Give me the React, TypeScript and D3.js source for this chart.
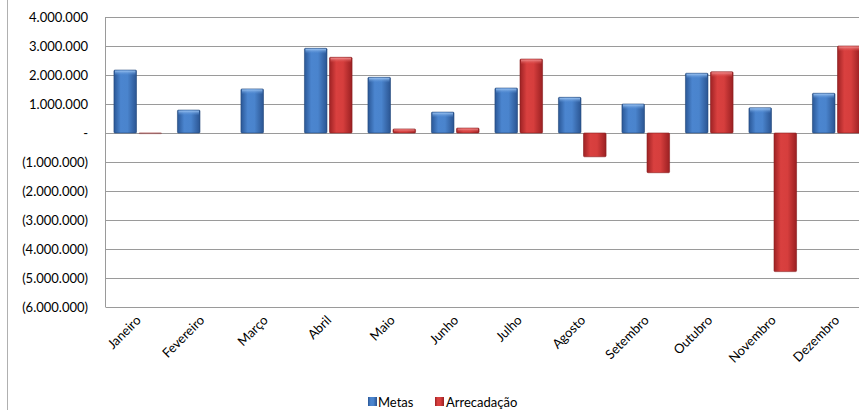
import React from "react";
import * as d3 from "d3";

const months = ["Janeiro","Fevereiro","Março","Abril","Maio","Junho","Julho","Agosto","Setembro","Outubro","Novembro","Dezembro"];
const metas = [2170000, 790000, 1520000, 2920000, 1920000, 720000, 1550000, 1230000, 1000000, 2060000, 870000, 1370000];
const arrecadacao = [10000, 0, 0, 2610000, 140000, 170000, 2550000, -820000, -1370000, 2110000, -4780000, 3000000];
const yTicks = [4000000, 3000000, 2000000, 1000000, 0, -1000000, -2000000, -3000000, -4000000, -5000000, -6000000];
const seriesNames = ["Metas", "Arrecadação"];

const W = 859, H = 410;
const left = 106, right = 868, top = 17, bottom = 307;

const fmt = (v: number) => {
  if (v === 0) return "-";
  const s = Math.abs(v).toString().replace(/\B(?=(\d{3})+(?!\d))/g, ".");
  return v < 0 ? `(${s})` : s;
};

export default function App() {
  const x = d3.scaleBand<string>().domain(months).range([left, right]).paddingInner(0.25).paddingOuter(0.125);
  const x1 = d3.scaleBand<string>().domain(seriesNames).range([0, x.bandwidth()]).paddingInner(0.1);
  const y = d3.scaleLinear().domain([-6000000, 4000000]).range([bottom, top]);
  const font = "Lato, 'Open Sans', sans-serif";
  const series = [metas, arrecadacao];
  const fills = ["url(#gBlue)", "url(#gRed)"];
  const strokes = ["#24487a", "#8a1f20"];
  return (
    <div style={{ position: "absolute", left: 0, top: 0 }}>
      <svg width={W} height={H} style={{ display: "block", background: "#fff" }}>
        <defs>
          <linearGradient id="gBlue" x1="0" x2="1" y1="0" y2="0">
            <stop offset="0" stopColor="#2a5796" />
            <stop offset="0.3" stopColor="#4b85cf" />
            <stop offset="0.6" stopColor="#4a84cd" />
            <stop offset="1" stopColor="#2b5592" />
          </linearGradient>
          <linearGradient id="gRed" x1="0" x2="1" y1="0" y2="0">
            <stop offset="0" stopColor="#9e2224" />
            <stop offset="0.3" stopColor="#d9403f" />
            <stop offset="0.6" stopColor="#d63e3d" />
            <stop offset="1" stopColor="#9a2022" />
          </linearGradient>
          <linearGradient id="hBlue" x1="0" x2="0" y1="0" y2="1">
            <stop offset="0" stopColor="#9cc4f2" />
            <stop offset="1" stopColor="#4b85cf" stopOpacity="0" />
          </linearGradient>
          <linearGradient id="hRed" x1="0" x2="0" y1="0" y2="1">
            <stop offset="0" stopColor="#f09090" />
            <stop offset="1" stopColor="#d9403f" stopOpacity="0" />
          </linearGradient>
        </defs>
        <line x1={7.5} x2={7.5} y1={0} y2={H} stroke="#b0b0b0" />
        {yTicks.map((t) => (
          <g key={t}>
            <line x1={left} x2={W} y1={Math.round(y(t)) + 0.5} y2={Math.round(y(t)) + 0.5} stroke="#9a9a9a" />
            <text x={88} y={y(t)} dy="0.35em" textAnchor="end" fontFamily={font} fontSize={13} fill="#000">{fmt(t)}</text>
          </g>
        ))}
        <line x1={left - 0.5} x2={left - 0.5} y1={top} y2={bottom + 0.5} stroke="#9a9a9a" />
        {series.map((vals, si) =>
          vals.map((v, i) => {
            if (v === 0) return null;
            const bx = (x(months[i]) as number) + (x1(seriesNames[si]) as number);
            const bw = x1.bandwidth();
            const y0 = y(Math.max(0, v));
            const h = Math.abs(y(v) - y(0));
            return (
              <g key={`${si}-${i}`}>
                <rect x={bx} y={y0} width={bw} height={Math.max(h, 1)} fill={fills[si]} stroke={strokes[si]} strokeWidth={0.6} rx={1} opacity={h < 1 ? 0.5 : 1} />
                {h > 4 && v > 0 && (
                  <rect x={bx + 1} y={y0 + 0.5} width={bw - 2} height={Math.min(5, h - 1)} fill={si === 0 ? "url(#hBlue)" : "url(#hRed)"} />
                )}
              </g>
            );
          })
        )}
        {months.map((m) => {
          const cx = (x(m) as number) + x.bandwidth() / 2 + 4;
          return (
            <text key={m} transform={`translate(${cx},${bottom + 14}) rotate(-45)`} textAnchor="end" fontFamily={font} fontSize={13} fill="#000">{m}</text>
          );
        })}
        <g>
          <rect x={368} y={397} width={9} height={9} fill="url(#gBlue)" />
          <text x={378} y={402} dy="0.35em" fontFamily={font} fontSize={13}>{seriesNames[0]}</text>
          <rect x={435} y={397} width={9} height={9} fill="url(#gRed)" />
          <text x={446} y={402} dy="0.35em" fontFamily={font} fontSize={13}>{seriesNames[1]}</text>
        </g>
      </svg>
    </div>
  );
}
